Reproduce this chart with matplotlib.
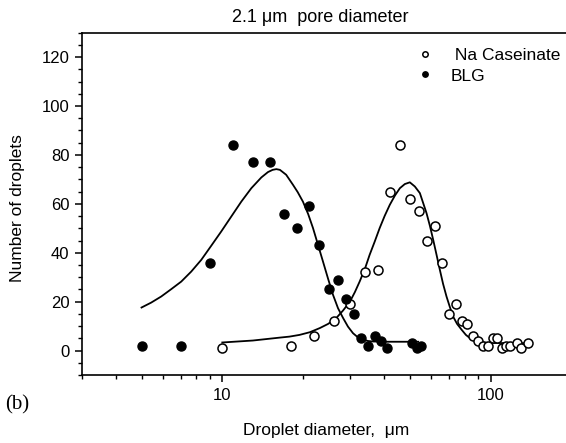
import numpy as np
import matplotlib
matplotlib.use("Agg")
import matplotlib.pyplot as plt
from matplotlib.ticker import MultipleLocator, LogLocator, FixedLocator, FixedFormatter, NullFormatter

plt.rcParams['font.family'] = ['Liberation Sans', 'DejaVu Sans']

# measured points
blg_x = [5, 7, 9, 11, 13, 15, 17, 19, 21, 23, 25, 27, 29, 31, 33, 35, 37, 39, 41, 51, 53, 55]
blg_y = [2, 2, 36, 84, 77, 77, 56, 50, 59, 43, 25, 29, 21, 15, 5, 2, 6, 4, 1, 3, 1, 2]

nacas_x = [10, 18, 22, 26, 30, 34, 38, 42, 46, 50, 54, 58, 62, 66, 70, 74, 78, 82,
           86, 90, 94, 98, 102, 106, 110, 114, 118, 125, 130, 138]
nacas_y = [1, 2, 6, 12, 19, 32, 33, 65, 84, 62, 57, 45, 51, 36, 15, 19, 12, 11,
           6, 4, 2, 2, 5, 5, 1, 2, 2, 3, 1, 3]

# fitted curves
blg_fit_x = [5.0, 5.43, 5.92, 6.45, 7.03, 7.66, 8.35, 9.10, 9.91, 10.8, 11.77, 12.83,
             13.98, 14.8, 15.4, 15.9, 16.4, 17.3, 18.34, 19.1, 19.98, 20.9, 21.78, 22.7,
             23.73, 24.8, 25.86, 27.0, 28.2, 29.4, 30.7, 32.1, 33.5, 35.0, 36.5, 40.0, 53.7]
blg_fit_y = [17.6, 19.6, 22.1, 25.1, 28.2, 32.3, 37.1, 42.9, 48.7, 54.8, 60.9, 66.4,
             70.8, 73.0, 73.9, 74.2, 73.9, 71.9, 67.8, 64.8, 60.9, 55.8, 50.1, 43.5,
             36.4, 29.3, 22.8, 17.3, 13.3, 9.8, 7.1, 5.3, 4.4, 3.9, 3.7, 3.6, 3.6]

nacas_fit_x = [10.0, 13.0, 16.4, 17.8, 19.4, 21.2, 23.1, 24.8, 26.6, 28.2, 29.9, 31.2,
               32.5, 34.0, 35.4, 37.0, 38.6, 40.3, 42.1, 44.0, 45.9, 47.9, 50.0, 52.2,
               54.5, 56.0, 57.7, 59.4, 61.1, 62.9, 64.7, 66.5, 68.5, 70.5, 72.5, 75.0,
               78.0, 80.9, 83.7, 87.4, 91.2, 100.0, 136.0]
nacas_fit_y = [3.3, 4.1, 5.3, 5.7, 6.4, 7.5, 9.2, 10.9, 13.3, 16.4, 20.0, 23.9,
               28.2, 33.4, 39.1, 44.6, 50.1, 55.1, 59.6, 63.4, 66.4, 68.1, 68.8, 67.1,
               64.4, 60.5, 56.2, 51.0, 45.3, 39.1, 33.0, 27.3, 22.1, 17.8, 13.9, 10.9,
               8.5, 6.4, 5.1, 4.1, 3.4, 3.1, 3.0]

fig = plt.figure(figsize=(5.66, 4.43), dpi=100)
ax = fig.add_axes([82 / 566, 1 - 375 / 443, 1 - 82 / 566, (375 - 32.7) / 443])

ax.plot(blg_fit_x, blg_fit_y, color='black', lw=1.3, zorder=2)
ax.plot(nacas_fit_x, nacas_fit_y, color='black', lw=1.3, zorder=2)
ax.plot(nacas_x, nacas_y, 'o', ms=6.5, mfc='white', mec='black', mew=1.1,
        label=' Na Caseinate', zorder=3)
ax.plot(blg_x, blg_y, 'o', ms=6.5, mfc='black', mec='black', label='BLG', zorder=3)

ax.set_xscale('log')
ax.set_xlim(3, 191)
ax.set_ylim(-10, 130)

ax.xaxis.set_major_locator(FixedLocator([10, 100]))
ax.xaxis.set_major_formatter(FixedFormatter(['10', '100']))
ax.xaxis.set_minor_locator(LogLocator(base=10, subs=np.arange(2, 10)))
ax.xaxis.set_minor_formatter(NullFormatter())
ax.yaxis.set_major_locator(FixedLocator([0, 20, 40, 60, 80, 100, 120]))
ax.yaxis.set_minor_locator(MultipleLocator(5))

ax.tick_params(which='major', direction='out', length=5, width=1.1, labelsize=12,
               top=False, right=False, colors='black', pad=4)
ax.tick_params(which='minor', direction='out', length=3, width=1.0,
               top=False, right=False)
ax.spines['right'].set_visible(False)
for s in ['left', 'bottom', 'top']:
    ax.spines[s].set_linewidth(1.2)

fig.text(320 / 566, 1 - 18 / 443, '2.1 \u03bcm  pore diameter', ha='center', va='center',
         fontsize=13)
fig.text(326 / 566, 1 - 430 / 443, 'Droplet diameter,  \u03bcm', ha='center', va='center',
         fontsize=12.5)
fig.text(18 / 566, 1 - 208 / 443, 'Number of droplets', ha='center', va='center',
         rotation=90, fontsize=12.5)
fig.text(5 / 566, 1 - 405 / 443, '(b)', ha='left', va='center', fontsize=15,
         family='Liberation Serif')

leg = ax.legend(loc='upper left', bbox_to_anchor=(412 / 566, 1 - 48 / 443),
                bbox_transform=fig.transFigure, frameon=False, markerscale=0.6,
                handlelength=1.5, handletextpad=0.7, labelspacing=0.3, fontsize=12.5,
                borderaxespad=0, borderpad=0)

fig.savefig('out.png', dpi=100)
